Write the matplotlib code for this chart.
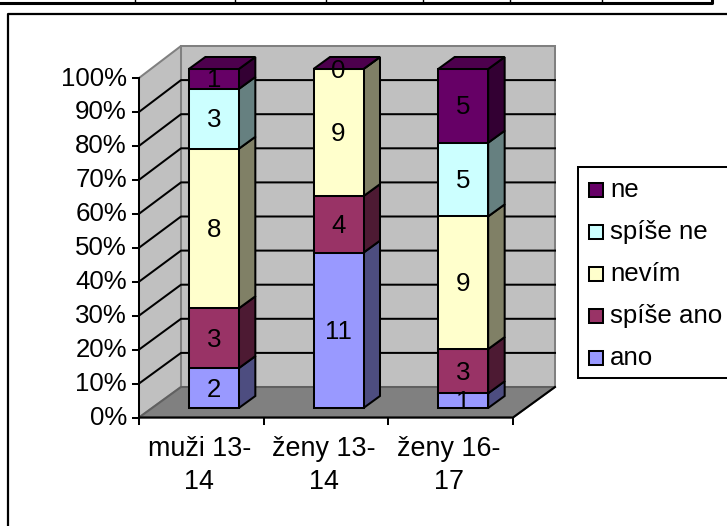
import matplotlib
matplotlib.use("Agg")
import matplotlib.pyplot as plt
from matplotlib.patches import Polygon, Rectangle

plt.rcParams['font.family'] = ['Liberation Sans', 'DejaVu Sans']

categories = ["muži 13-\n14", "ženy 13-\n14", "ženy 16-\n17"]
series_names = ["ano", "spíše ano", "nevím", "spíše ne", "ne"]
ano = [2, 11, 1]
spise_ano = [3, 4, 3]
nevim = [8, 9, 9]
spise_ne = [3, None, 5]
ne = [1, 0, 5]
series = [ano, spise_ano, nevim, spise_ne, ne]
pct_ticks = [0, 10, 20, 30, 40, 50, 60, 70, 80, 90, 100]
top_rule_ticks = [135, 235, 326, 423, 510, 602]

front_cols = ["#9999FF", "#993366", "#FFFFCC", "#CCFFFF", "#660066"]
side_cols = ["#4D4D80", "#4D1A33", "#808066", "#668080", "#330033"]
top_cols = ["#7373BF", "#73264D", "#BFBF99", "#99BFBF", "#4D004D"]

W, H = 727, 526
fig = plt.figure(figsize=(W / 100, H / 100), dpi=100)
ax = fig.add_axes([0, 0, 1, 1])
ax.set_xlim(0, W)
ax.set_ylim(H, 0)
ax.axis("off")

LW = 1.45
FS = 18.6

# page furniture
ax.plot([0, 712, 712], [3, 3, 0], color="black", lw=2.2, zorder=1)
for x in top_rule_ticks:
    ax.plot([x, x], [0, 3], color="black", lw=1, zorder=1)
ax.plot([W + 5, 8, 8], [14, 14, H + 5], color="black", lw=1.6, zorder=1)

# plot geometry
FL, FR, FB, FH = 139, 513, 417.5, 339.5
BL, BR, BB, BH = 181, 555, 387, 341


def fy(p):
    return FB - FH * p / 100


def by(p):
    return BB - BH * p / 100


ax.add_patch(Polygon([(BL, by(0)), (BR, by(0)), (BR, by(100)), (BL, by(100))],
                     fc="#C0C0C0", ec="#808080", lw=LW, zorder=2))
ax.add_patch(Polygon([(FL, fy(0)), (BL, by(0)), (BL, by(100)), (FL, fy(100))],
                     fc="#C0C0C0", ec="#808080", lw=LW, zorder=2))
ax.add_patch(Polygon([(FL, fy(0)), (FR, fy(0)), (BR, by(0)), (BL, by(0))],
                     fc="#808080", ec="#606060", lw=LW, zorder=2))
for p in pct_ticks[1:-1]:
    ax.plot([FL, BL, BR], [fy(p), by(p), by(p)], color="black", lw=LW, zorder=3)

# axes
ax.plot([FL, FL, FR, BR], [fy(100), fy(0), fy(0), by(0)], color="black", lw=LW, zorder=4,
        solid_joinstyle="miter")
for p in pct_ticks:
    ax.plot([FL - 6, FL], [fy(p), fy(p)], color="black", lw=LW, zorder=4)
    ax.text(FL - 12, fy(p) + 0.5, f"{p}%", ha="right", va="center", fontsize=FS, zorder=6)
n = len(categories)
for i in range(n + 1):
    x = FL + (FR - FL) * i / n
    ax.plot([x, x], [fy(0), fy(0) + 6], color="black", lw=LW, zorder=4)
for i, c in enumerate(categories):
    x = FL + (FR - FL) * (i + 0.5) / n
    ax.text(x - 2, 465.5, c, ha="center", va="center", fontsize=19.4, linespacing=1.36, zorder=6)

# stacked 3-D bars
bar_w, dx, dy = 50, 16.5, 12
base_y = 408
full_h = 339
for i in range(n):
    cx = FL + (FR - FL) * (i + 0.5) / n + 12.5
    xl, xr = cx - bar_w / 2, cx + bar_w / 2
    total = sum(s[i] or 0 for s in series)
    cum = 0
    last = None
    for k, s in enumerate(series):
        v = s[i]
        if v is None:
            continue
        y0 = base_y - full_h * cum / total
        cum += v
        y1 = base_y - full_h * cum / total
        ax.add_patch(Polygon([(xr, y0), (xr + dx, y0 - dy), (xr + dx, y1 - dy), (xr, y1)],
                             fc=side_cols[k], ec="black", lw=LW, zorder=5))
        ax.add_patch(Polygon([(xl, y0), (xr, y0), (xr, y1), (xl, y1)],
                             fc=front_cols[k], ec="black", lw=LW, zorder=5))
        last = k
    y_top = base_y - full_h
    ax.add_patch(Polygon([(xl, y_top), (xr, y_top), (xr + dx, y_top - dy), (xl + dx, y_top - dy)],
                         fc=top_cols[last], ec="black", lw=LW, zorder=5))
    cum = 0
    for k, s in enumerate(series):
        v = s[i]
        if v is None:
            continue
        ym = base_y - full_h * (cum + v / 2) / total
        cum += v
        ax.text(cx, ym + 1.5, str(v), ha="center", va="center", fontsize=FS, zorder=7)

# legend
ax.add_patch(Rectangle((578, 167), W, 211, fc="white", ec="black", lw=LW, zorder=2))
for j, k in enumerate(reversed(range(len(series_names)))):
    y = 190 + 42 * j
    ax.add_patch(Rectangle((588.5, y - 7), 14, 14, fc=front_cols[k], ec="black", lw=LW, zorder=3))
    ax.text(610, y, series_names[k], ha="left", va="center", fontsize=FS, zorder=3)

fig.savefig("out.png", dpi=100)
